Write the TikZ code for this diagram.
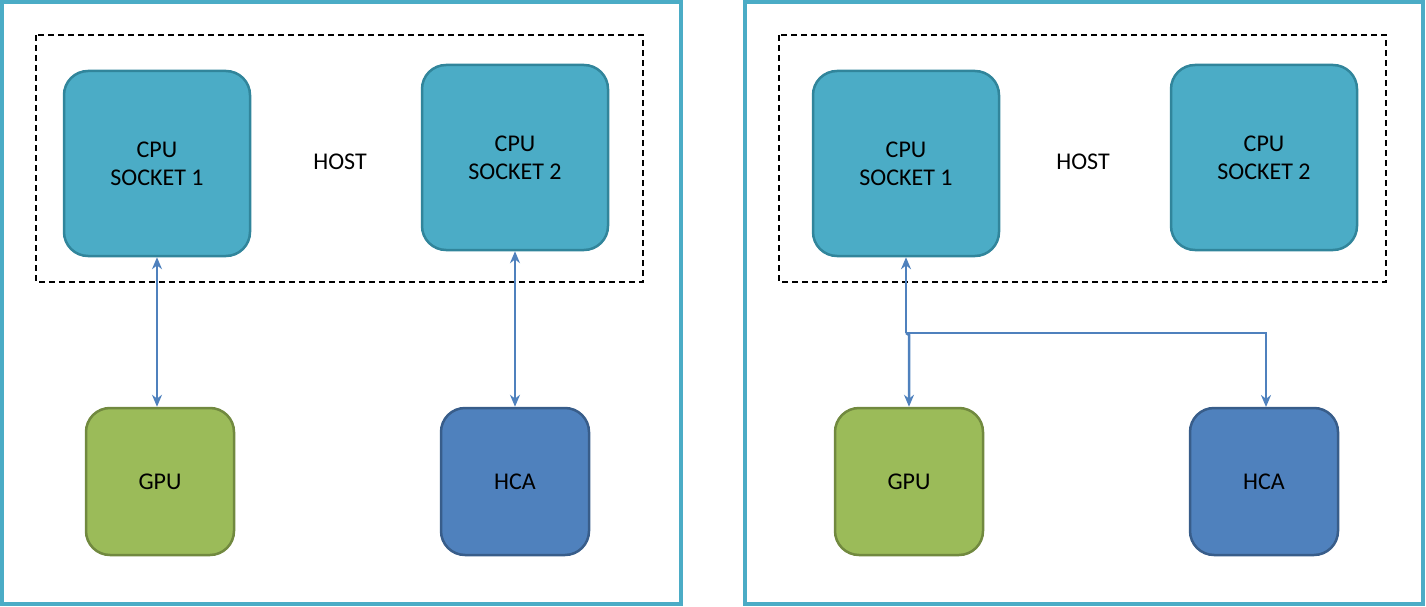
\documentclass[tikz,border=0pt]{standalone}
\usepackage{fontspec}
\setmainfont{Carlito}
\usetikzlibrary{arrows.meta}
\definecolor{frame}{RGB}{75,172,198}
\definecolor{cpuf}{RGB}{75,172,198}
\definecolor{cpud}{RGB}{49,133,155}
\definecolor{gpuf}{RGB}{155,187,89}
\definecolor{gpud}{RGB}{113,137,63}
\definecolor{hcaf}{RGB}{79,129,189}
\definecolor{hcad}{RGB}{56,93,138}
\definecolor{arr}{RGB}{79,129,189}
\begin{document}
\begin{tikzpicture}[x=1pt,y=-1pt,
  >={Stealth[length=12pt,width=10pt]},
  box/.style={rounded corners=24pt,line width=2.5pt,font=\fontsize{24}{28}\selectfont,align=center,inner sep=0pt},
  cpu/.style={box,fill=cpuf,draw=cpud,minimum width=186pt,minimum height=185pt},
  gpu/.style={box,fill=gpuf,draw=gpud,minimum width=148pt,minimum height=147pt},
  hca/.style={box,fill=hcaf,draw=hcad,minimum width=148pt,minimum height=147pt},
  outer/.style={draw=frame,line width=4pt},
  host/.style={draw=black,line width=2.5pt,dash pattern=on 6pt off 4pt},
  lab/.style={font=\fontsize{24}{28}\selectfont},
  conn/.style={draw=arr,line width=2.5pt}]
\useasboundingbox (0,0) rectangle (1426,607);
\draw[outer] (2,2) rectangle (681,604);
\draw[outer] (745,2) rectangle (1423,604);
\draw[host] (36,35) rectangle (643,282);
\draw[host] (779,35) rectangle (1386,282);
% left
\node[cpu] (c1) at (157,163.5) {CPU\\SOCKET 1};
\node[cpu] (c2) at (515,157.5) {CPU\\SOCKET 2};
\node[lab] (h1) at (340,162) {HOST};
\node[gpu] (g1) at (160,481.5) {GPU};
\node[hca] (a1) at (515,481.5) {HCA};
\draw[conn,<->] (c1.south) -- (c1.south |- g1.north);
\draw[conn,<->] (c2.south) -- (a1.north);
% right
\node[cpu] (c3) at (906,163.5) {CPU\\SOCKET 1};
\node[cpu] (c4) at (1264,157.5) {CPU\\SOCKET 2};
\node[lab] (h2) at (1083,162) {HOST};
\node[gpu] (g2) at (909,481.5) {GPU};
\node[hca] (a2) at (1264,481.5) {HCA};
\coordinate (j) at (906,333);
\draw[conn,<-] (c3.south) -- (j);
\draw[conn,->] (j) -- (909,335) -- (g2.north);
\draw[conn,->] (j) -- (1266,333) -- (1266,407);
\end{tikzpicture}
\end{document}
